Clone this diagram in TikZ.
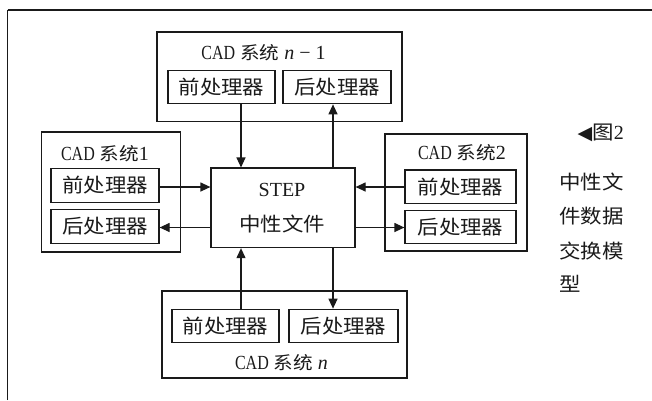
\documentclass[tikz,border=0pt]{standalone}
\usepackage{fontspec}
\setmainfont{Liberation Serif}
\newfontfamily\zh[FakeStretch=1.1]{Noto Sans CJK SC}
\newfontfamily\latc[FakeStretch=0.8]{Liberation Serif}
\newfontfamily\symf{DejaVu Sans}
\usetikzlibrary{arrows.meta}
\definecolor{ink}{HTML}{1A1A1A}
\newcommand\zhin{\zh\fontsize{19.5}{20}\selectfont}
\newcommand\ttl{\fontsize{20}{20}\selectfont}
\newcommand\zhti{\zh\fontsize{17.8}{20}\selectfont}
\begin{document}
\begin{tikzpicture}[x=1pt,y=-1pt,
  box/.style={draw=ink,line width=1.2pt,inner sep=0pt,rectangle},
  lab/.style={inner sep=0pt,text=ink},
  arr/.style={draw=ink,line width=1.2pt,-{Triangle[length=10pt,width=9pt]}},
  proc/.style={box,minimum height=33.5pt,font=\zhin,text=ink},
]
\useasboundingbox (0,0) rectangle (652,400);
\fill[white] (0,0) rectangle (652,400);
\coordinate (fl) at (7.5,400);
\coordinate (fc) at (7.5,9.5);
\coordinate (fr) at (652,9.5);
\draw[ink,line width=1.5pt] (fl) -- (fc);
\draw[ink,line width=2pt] (fc) -- (fr);

% top system n-1
\node[box,minimum width=245pt,minimum height=89.5pt] (sysT) at (279.5,76.7) {};
\node[lab,font=\ttl] (tT) at (263.5,53) {{\latc CAD} {\zhti 系统} \textit{n} − 1};
\node[proc,minimum width=107pt] (tpre) at (221.5,87) {前处理器};
\node[proc,minimum width=108pt] (tpost) at (337,87) {后处理器};

% left system 1
\node[box,minimum width=139pt,minimum height=120pt] (sysL) at (111.2,192) {};
\node[lab,font=\ttl] (tL) at (105,154) {{\latc CAD} {\zhti 系统}1};
\node[proc,minimum width=108pt] (lpre) at (105,185.5) {前处理器};
\node[proc,minimum width=108pt] (lpost) at (105,226.5) {后处理器};

% STEP
\node[box,minimum width=144pt,minimum height=79.5pt] (step) at (283,207.8) {};
\node[lab,font=\fontsize{20}{20}\selectfont] (stepT) at (282,190) {STEP};
\node[lab,font=\zhin] (stepZ) at (282,224) {中性文件};

% right system 2
\node[box,minimum width=142pt,minimum height=117pt] (sysR) at (456,192.5) {};
\node[lab,font=\ttl] (tR) at (462,153) {{\latc CAD} {\zhti 系统}2};
\node[proc,minimum width=111pt] (rpre) at (460.5,186.8) {前处理器};
\node[proc,minimum width=111pt] (rpost) at (460.5,227) {后处理器};

% bottom system n
\node[box,minimum width=245pt,minimum height=87pt] (sysB) at (284.5,334.5) {};
\node[lab,font=\ttl] (tB) at (281.5,363) {{\latc CAD} {\zhti 系统} \textit{n}};
\node[proc,minimum width=107pt] (bpre) at (225.5,326) {前处理器};
\node[proc,minimum width=109pt] (bpost) at (343.5,326) {后处理器};

% caption
\node[lab,anchor=east,font=\ttl] (cap0) at (624,133) {{\symf\fontsize{19}{19}\selectfont ◀}{\zhin 图}2};
\node[lab,anchor=west,font=\zhin] (cap1) at (559,182) {中性文};
\node[lab,anchor=west,font=\zhin] (cap2) at (559,216) {件数据};
\node[lab,anchor=west,font=\zhin] (cap3) at (559,251) {交换模};
\node[lab,anchor=west,font=\zhin] (cap4) at (559,284) {型};

% arrow guide coordinates
\coordinate (xl) at (241,0);
\coordinate (xr) at (333,0);
\coordinate (yu) at (0,187);
\coordinate (yd) at (0,227.5);

\draw[arr] (tpre.south -| xl) -- (step.north -| xl);
\draw[arr] (step.north -| xr) -- (tpost.south -| xr);
\draw[arr] (lpre.east |- yu) -- (step.west |- yu);
\draw[arr] (step.west |- yd) -- (lpost.east |- yd);
\draw[arr] (rpre.west |- yu) -- (step.east |- yu);
\draw[arr] (step.east |- yd) -- (rpost.west |- yd);
\draw[arr] (bpre.north -| xl) -- (step.south -| xl);
\draw[arr] (step.south -| xr) -- (bpost.north -| xr);
\end{tikzpicture}
\end{document}
